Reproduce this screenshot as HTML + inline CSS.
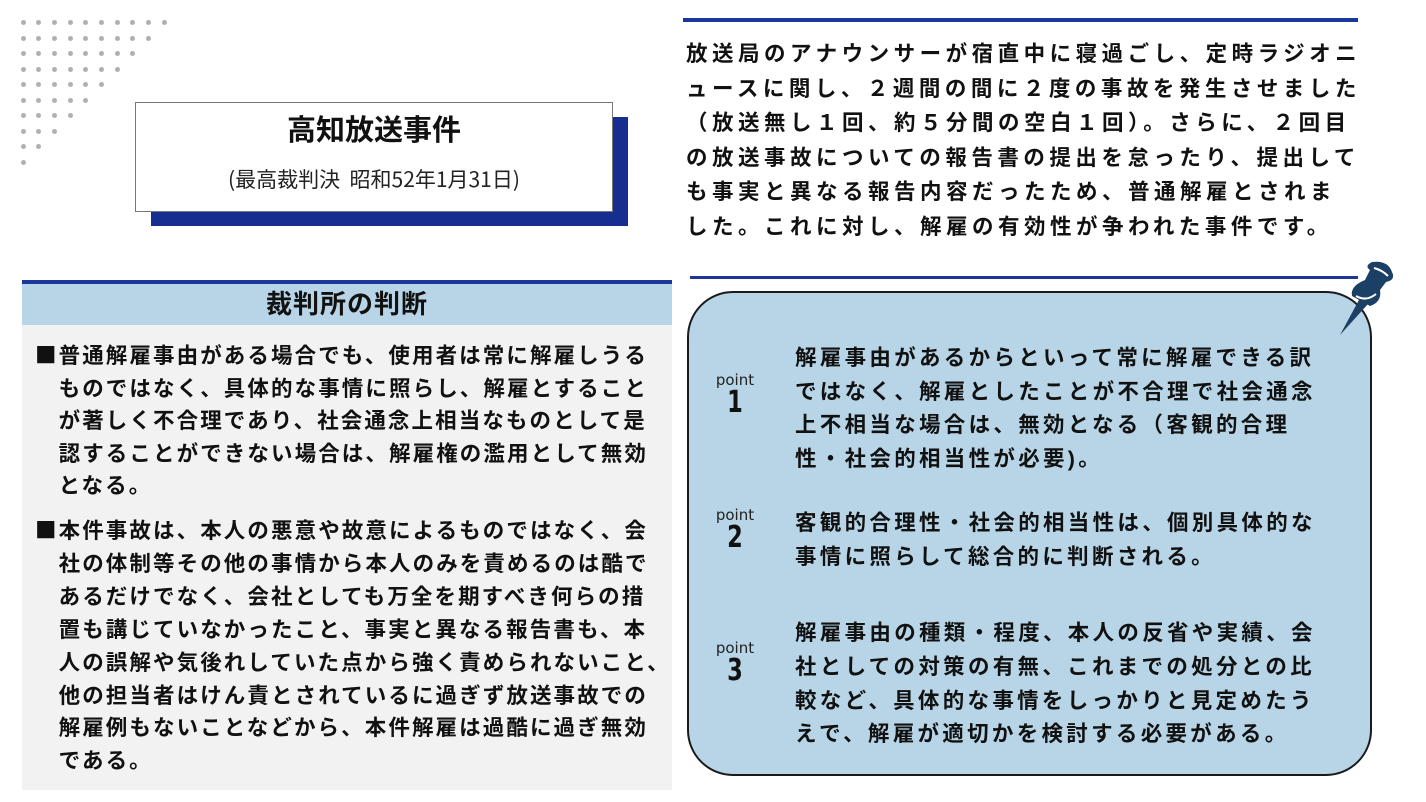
<!DOCTYPE html>
<html><head><meta charset="utf-8"><style>
*{margin:0;padding:0;box-sizing:border-box}
body{width:1426px;height:802px;background:#fff;position:relative;overflow:hidden;font-family:"Liberation Sans","Noto Sans CJK JP",sans-serif;color:#111}
.a{position:absolute;white-space:nowrap}
.t{font-size:21.5px;font-weight:bold;letter-spacing:3.1px;line-height:26px}
.sq{font-family:"Noto Sans CJK JP",sans-serif}
.dot{position:absolute;width:5px;height:5px;border-radius:50%;background:#b0b0b0}
.pt{position:absolute;width:60px;text-align:center;font-family:"DejaVu Sans",sans-serif}
.pt .p{font-size:15px;color:#222;line-height:16px}
.pt .n{font-size:30px;font-weight:bold;line-height:30px;transform:scaleX(0.75)}
</style></head><body>
<div id="dots"></div>
<!-- title -->
<div class="a" style="left:151px;top:117px;width:477px;height:109px;background:#152e8f"></div>
<div class="a" style="left:135px;top:102px;width:478px;height:110px;background:#fff;border:1px solid #777"></div>
<div class="a" style="left:135px;top:114px;width:478px;text-align:center;font-size:29px;font-weight:bold;line-height:34px">高知放送事件</div>
<div class="a" style="left:135px;top:165px;width:478px;text-align:center;font-size:21px;line-height:28px;color:#222;font-family:'Noto Sans CJK JP',sans-serif">(最高裁判決&nbsp; 昭和52年1月31日)</div>

<!-- top right -->
<div class="a" style="left:683px;top:18px;width:675px;height:4px;background:#1a3799"></div>
<div class="a t" style="left:686px;top:37px;line-height:34.5px;letter-spacing:4.5px">放送局のアナウンサーが宿直中に寝過ごし、定時ラジオニ<br>ュースに関し、２週間の間に２度の事故を発生させました<br>（放送無し１回、約５分間の空白１回）。さらに、２回目<br>の放送事故についての報告書の提出を怠ったり、提出して<br>も事実と異なる報告内容だったため、普通解雇とされま<br>した。これに対し、解雇の有効性が争われた事件です。</div>
<div class="a" style="left:690px;top:276px;width:668px;height:3px;background:#1a3799"></div>

<!-- left panel -->
<div class="a" style="left:22px;top:280px;width:650px;height:4px;background:#1a3799"></div>
<div class="a" style="left:22px;top:284px;width:650px;height:41px;background:#b7d5e7;text-align:center;font-size:26px;font-weight:bold;line-height:41px;letter-spacing:1px">裁判所の判断</div>
<div class="a" style="left:22px;top:325px;width:650px;height:465px;background:#f2f2f2"></div>
<div class="a t" style="left:35px;top:339px;line-height:32.6px;letter-spacing:2.1px"><span class="sq">■</span>普通解雇事由がある場合でも、使用者は常に解雇しうる<br>　ものではなく、具体的な事情に照らし、解雇とすること<br>　が著しく不合理であり、社会通念上相当なものとして是<br>　認することができない場合は、解雇権の濫用として無効<br>　となる。</div>
<div class="a t" style="left:35px;top:514px;line-height:32.9px;letter-spacing:2.1px"><span class="sq">■</span>本件事故は、本人の悪意や故意によるものではなく、会<br>　社の体制等その他の事情から本人のみを責めるのは酷で<br>　あるだけでなく、会社としても万全を期すべき何らの措<br>　置も講じていなかったこと、事実と異なる報告書も、本<br>　人の誤解や気後れしていた点から強く責められないこと、<br>　他の担当者はけん責とされているに過ぎず放送事故での<br>　解雇例もないことなどから、本件解雇は過酷に過ぎ無効<br>　である。</div>

<!-- right box -->
<div class="a" style="left:687px;top:291px;width:685px;height:485px;background:#b7d5e7;border:2.5px solid #1a1a1a;border-radius:46px"></div>
<svg class="a" style="left:1330px;top:258px" width="70" height="82" viewBox="0 0 70 82">
<path d="M10 77 L30 40 L38 46 Z" fill="#1c3f66"/>
<path d="M22 38 Q20 28 35 22 L40 12 Q34 8 42 4 Q58 2 62 14 Q66 22 56 24 L50 32 Q52 44 40 48 Z" fill="#1c3f66"/>
<path d="M26 38 Q36 44 46 36" stroke="#fff" stroke-width="2" fill="none"/>
<path d="M44 10 Q52 12 58 18" stroke="#fff" stroke-width="2" fill="none"/>
</svg>

<div class="pt a" style="left:705px;top:372px"><div class="p">point</div><div class="n">1</div></div>
<div class="a t" style="left:795px;top:342px;line-height:33.5px;letter-spacing:3.3px">解雇事由があるからといって常に解雇できる訳<br>ではなく、解雇としたことが不合理で社会通念<br>上不相当な場合は、無効となる（客観的合理<br>性・社会的相当性が必要)。</div>
<div class="pt a" style="left:705px;top:507px"><div class="p">point</div><div class="n">2</div></div>
<div class="a t" style="left:795px;top:507px;line-height:33.5px;letter-spacing:3.3px">客観的合理性・社会的相当性は、個別具体的な<br>事情に照らして総合的に判断される。</div>
<div class="pt a" style="left:705px;top:640px"><div class="p">point</div><div class="n">3</div></div>
<div class="a t" style="left:795px;top:617px;line-height:33.8px;letter-spacing:3.3px">解雇事由の種類・程度、本人の反省や実績、会<br>社としての対策の有無、これまでの処分との比<br>較など、具体的な事情をしっかりと見定めたう<br>えで、解雇が適切かを検討する必要がある。</div>

<script>
var d=document.getElementById('dots'),h='';
for(var r=0;r<10;r++){for(var c=0;c<10-r;c++){h+='<div class="dot" style="left:'+(23+c*15.7-2.5)+'px;top:'+(22.5+r*15.5-2.5)+'px"></div>';}}
d.innerHTML=h;
</script>
</body></html>
